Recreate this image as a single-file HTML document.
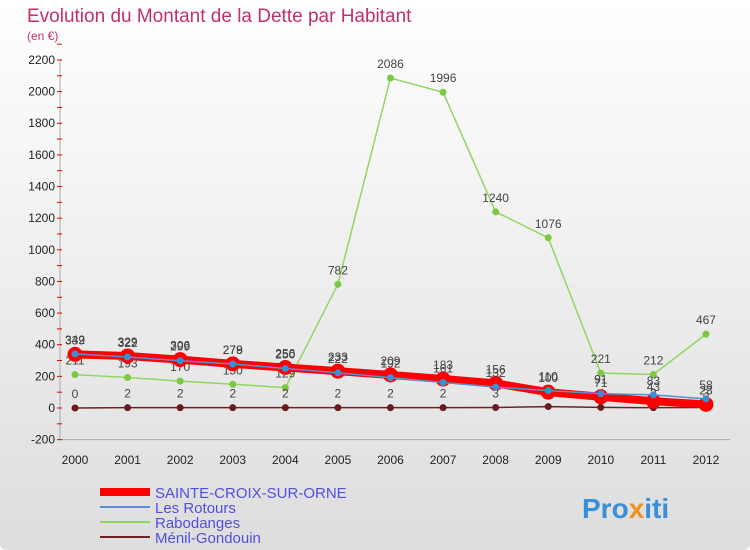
<!DOCTYPE html>
<html><head><meta charset="utf-8"><style>
body{margin:0;width:750px;height:550px;background:#fff;font-family:"Liberation Sans",sans-serif;overflow:hidden}
#bg{position:absolute;left:0;top:0;width:750px;height:550px;background:linear-gradient(#fff,#ddd);border-radius:6px}
</style></head><body>
<div id="bg"></div>
<svg id="c" width="750" height="550" style="position:absolute;left:0;top:0">
<text x="27" y="22" font-size="19" fill="#c0306c">Evolution du Montant de la Dette par Habitant</text>
<text x="27" y="40" font-size="12" fill="#c0306c">(en €)</text>
<g id="grid"></g><g id="series"></g><g id="legend"></g>
<text x="582" y="518" font-size="28" font-weight="bold" fill="#3a8fd8">Pro<tspan fill="#f09020">x</tspan>iti</text>
</svg>
<script>
const years=[2000,2001,2002,2003,2004,2005,2006,2007,2008,2009,2010,2011,2012];
const yTicks=[-200,0,200,400,600,800,1000,1200,1400,1600,1800,2000,2200];
const sainte=[339,329,306,279,256,233,209,183,156,100,71,43,23];
const rotours=[342,322,299,278,250,222,192,161,132,110,91,83,58];
const rabodanges=[211,193,170,150,129,782,2086,1996,1240,1076,221,212,467];
const menil=[0,2,2,2,2,2,2,2,3,9,4,2,3];
const names=["SAINTE-CROIX-SUR-ORNE","Les Rotours","Rabodanges","Ménil-Gondouin"];
const NS="http://www.w3.org/2000/svg";
const X=i=>75+i*52.58, Y=v=>408-v*0.1582;
function el(t,a,p){const e=document.createElementNS(NS,t);for(const k in a)e.setAttribute(k,a[k]);p.appendChild(e);return e;}
const g=document.getElementById('grid'),s=document.getElementById('series'),lg=document.getElementById('legend');
el('line',{x1:60,y1:Y(2200),x2:60,y2:Y(-200),stroke:'#aaa'},g);
el('line',{x1:60,y1:Y(-200),x2:730,y2:Y(-200),stroke:'#aaa'},g);
yTicks.forEach(v=>{const t=el('text',{x:55,y:Y(v)+4,'font-size':12,'text-anchor':'end',fill:'#222'},g);t.textContent=v;


el('line',{x1:57,y1:Y(v),x2:62,y2:Y(v),stroke:'#d00'},g);
el('line',{x1:57,y1:Y(v+100),x2:62,y2:Y(v+100),stroke:'#d00'},g);});
years.forEach((y,i)=>{const t=el('text',{x:X(i),y:464,'font-size':12,'text-anchor':'middle',fill:'#222'},g);t.textContent=y;

});
function draw(d,color,w,r,mc,name){const grp=el('g',{},s);


el('polyline',{points:d.map((v,i)=>X(i)+','+Y(v)).join(' '),fill:'none',stroke:color,'stroke-width':w},grp);
d.forEach((v,i)=>{el('circle',{cx:X(i),cy:Y(v),r:r,fill:mc,stroke:color==='#f00'?'#f00':'none','stroke-width':3},grp);
const t=el('text',{x:X(i),y:Y(v)-10,'font-size':12,'text-anchor':'middle',fill:'#444'},grp);t.textContent=v;});}
draw(rabodanges,'#8fd860',1.5,3.5,'#7cc840','series-rabodanges');
draw(menil,'#702020',1.5,3.5,'#6a1a1a','series-menil-gondouin');
draw(sainte,'#f00',8,6,'#f00','series-sainte-croix');
draw(rotours,'#5a8ed0',1.5,3.5,'#3a8fd8','series-les-rotours');
const lc=[['#f00',8],['#5a8ed0',2],['#8fd860',2],['#702020',2]];
names.forEach((n,i)=>{const y=492+i*15;
el('line',{x1:100,y1:y,x2:150,y2:y,stroke:lc[i][0],'stroke-width':lc[i][1]},lg);
const t=el('text',{x:155,y:y+6,'font-size':15,fill:'#5050e0'},lg);t.textContent=n;

});
</script>
</body></html>
